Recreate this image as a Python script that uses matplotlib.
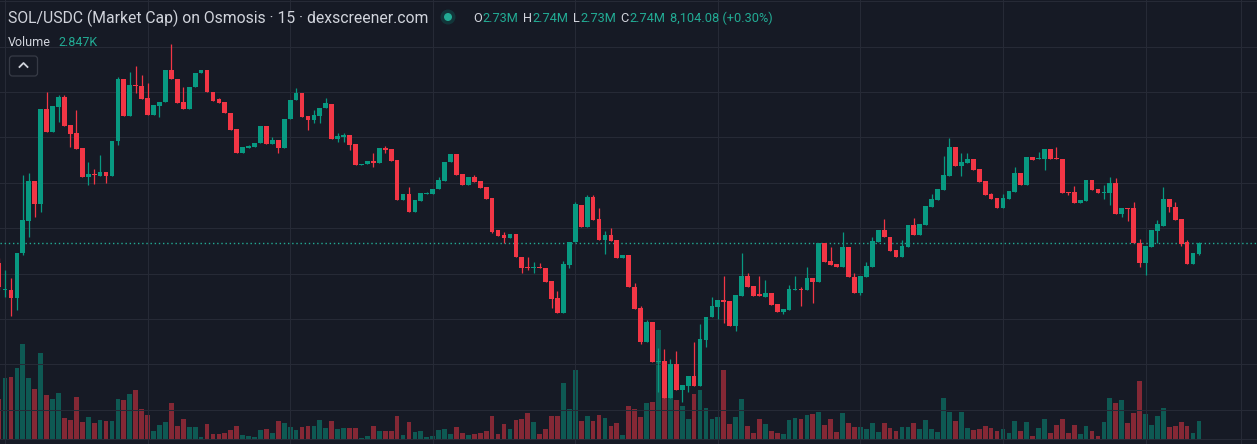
import numpy as np
import matplotlib.pyplot as plt
from matplotlib.patches import Circle, FancyBboxPatch
from matplotlib.lines import Line2D
from matplotlib.transforms import IdentityTransform

W, H = 1257, 444
BG = "#161a25"
UP = "#089981"
DOWN = "#f23645"
TEAL = "#22ab94"
GRID = "#262a36"
TEXT = "#d1d4dc"
FONT = ["Roboto", "DejaVu Sans"]

# SOL/USDC market cap, 15 min candles, values in $K
opens = [
    2720, 2693, 2693, 2685, 2730, 2762, 2802, 2779, 2874, 2851,
    2876, 2886, 2858, 2850, 2835, 2806, 2809, 2807, 2811, 2807,
    2842, 2904, 2867, 2898, 2897, 2885, 2868, 2877, 2881, 2913,
    2904, 2881, 2874, 2896, 2910, 2913, 2891, 2884, 2881, 2870,
    2854, 2830, 2835, 2836, 2840, 2857, 2839, 2843, 2835, 2864,
    2883, 2890, 2867, 2863, 2867, 2875, 2879, 2844, 2846, 2848,
    2839, 2818, 2819, 2822, 2820, 2835, 2834, 2823, 2783, 2789,
    2771, 2782, 2789, 2789, 2794, 2802, 2821, 2829, 2809, 2798,
    2806, 2802, 2796, 2785, 2753, 2748, 2745, 2749, 2726, 2716,
    2715, 2716, 2715, 2702, 2685, 2670, 2718, 2741, 2778, 2756,
    2786, 2764, 2743, 2748, 2743, 2725, 2728, 2696, 2675, 2641,
    2661, 2621, 2622, 2585, 2619, 2593, 2597, 2607, 2597, 2643,
    2666, 2676, 2683, 2682, 2657, 2687, 2707, 2697, 2689, 2686,
    2690, 2679, 2671, 2673, 2693, 2694, 2693, 2705, 2701, 2740,
    2722, 2719, 2716, 2736, 2706, 2690, 2706, 2716, 2741, 2753,
    2746, 2733, 2726, 2736, 2758, 2748, 2758, 2776, 2783, 2793,
    2807, 2836, 2817, 2820, 2824, 2814, 2802, 2789, 2785, 2775,
    2784, 2791, 2810, 2798, 2826, 2824, 2824, 2834, 2825, 2824,
    2791, 2791, 2780, 2782, 2803, 2794, 2790, 2790, 2800, 2769,
    2775, 2775, 2740, 2720, 2736, 2752, 2757, 2784, 2776, 2764,
    2741, 2719, 2729,
]
highs = [
    2725, 2713, 2705, 2730, 2808, 2810, 2802, 2874, 2891, 2877,
    2888, 2888, 2858, 2873, 2835, 2821, 2814, 2828, 2811, 2842,
    2906, 2904, 2911, 2917, 2908, 2900, 2878, 2881, 2913, 2939,
    2904, 2896, 2896, 2910, 2913, 2913, 2891, 2885, 2881, 2870,
    2854, 2836, 2838, 2840, 2857, 2857, 2846, 2843, 2864, 2883,
    2895, 2890, 2867, 2873, 2875, 2885, 2879, 2850, 2850, 2848,
    2839, 2819, 2822, 2830, 2835, 2837, 2834, 2823, 2789, 2796,
    2783, 2790, 2791, 2794, 2806, 2821, 2829, 2829, 2809, 2806,
    2808, 2802, 2796, 2785, 2753, 2751, 2749, 2749, 2726, 2726,
    2721, 2720, 2715, 2702, 2692, 2722, 2741, 2781, 2778, 2788,
    2788, 2775, 2752, 2755, 2743, 2728, 2728, 2700, 2677, 2663,
    2661, 2635, 2634, 2624, 2632, 2598, 2607, 2641, 2659, 2666,
    2686, 2683, 2707, 2682, 2688, 2730, 2710, 2697, 2707, 2703,
    2690, 2679, 2674, 2698, 2707, 2696, 2716, 2705, 2740, 2740,
    2736, 2719, 2751, 2736, 2710, 2707, 2721, 2746, 2753, 2764,
    2746, 2733, 2743, 2758, 2765, 2759, 2777, 2789, 2794, 2827,
    2845, 2836, 2830, 2830, 2824, 2814, 2802, 2790, 2785, 2789,
    2792, 2816, 2810, 2826, 2826, 2831, 2834, 2834, 2836, 2824,
    2791, 2797, 2783, 2803, 2803, 2794, 2798, 2806, 2805, 2775,
    2775, 2781, 2744, 2737, 2753, 2763, 2796, 2784, 2781, 2764,
    2743, 2730, 2741,
]
lows = [
    2693, 2686, 2667, 2673, 2728, 2746, 2766, 2771, 2851, 2851,
    2861, 2857, 2836, 2834, 2806, 2798, 2799, 2807, 2800, 2807,
    2838, 2867, 2867, 2890, 2884, 2868, 2868, 2866, 2881, 2904,
    2880, 2874, 2874, 2896, 2910, 2891, 2882, 2880, 2870, 2853,
    2830, 2830, 2835, 2836, 2840, 2839, 2839, 2830, 2835, 2864,
    2883, 2866, 2853, 2860, 2860, 2875, 2844, 2841, 2841, 2833,
    2818, 2818, 2819, 2816, 2820, 2830, 2822, 2783, 2783, 2771,
    2771, 2782, 2789, 2789, 2794, 2802, 2821, 2808, 2798, 2798,
    2801, 2795, 2784, 2750, 2747, 2740, 2745, 2726, 2710, 2713,
    2710, 2715, 2701, 2675, 2670, 2670, 2715, 2741, 2756, 2756,
    2763, 2743, 2729, 2742, 2725, 2725, 2696, 2674, 2639, 2641,
    2621, 2591, 2585, 2585, 2593, 2581, 2591, 2597, 2597, 2636,
    2666, 2664, 2660, 2657, 2652, 2687, 2696, 2687, 2687, 2686,
    2678, 2671, 2669, 2673, 2693, 2677, 2693, 2680, 2701, 2721,
    2718, 2716, 2716, 2706, 2690, 2688, 2706, 2716, 2741, 2746,
    2732, 2726, 2726, 2736, 2748, 2748, 2758, 2776, 2783, 2793,
    2807, 2817, 2807, 2820, 2813, 2801, 2788, 2784, 2775, 2775,
    2784, 2791, 2798, 2798, 2823, 2824, 2813, 2824, 2824, 2790,
    2788, 2780, 2780, 2782, 2793, 2790, 2784, 2778, 2769, 2766,
    2762, 2740, 2716, 2708, 2736, 2740, 2757, 2771, 2763, 2737,
    2719, 2719, 2728,
]
closes = [
    2696, 2694, 2685, 2730, 2763, 2802, 2779, 2874, 2851, 2877,
    2886, 2857, 2849, 2834, 2806, 2809, 2808, 2811, 2807, 2842,
    2904, 2867, 2898, 2897, 2884, 2868, 2878, 2881, 2913, 2904,
    2880, 2874, 2896, 2910, 2913, 2891, 2882, 2880, 2870, 2853,
    2830, 2836, 2837, 2840, 2857, 2839, 2843, 2835, 2864, 2883,
    2890, 2866, 2863, 2868, 2875, 2880, 2844, 2847, 2848, 2838,
    2818, 2819, 2822, 2820, 2835, 2833, 2822, 2783, 2789, 2771,
    2783, 2790, 2790, 2794, 2803, 2821, 2829, 2808, 2798, 2806,
    2801, 2795, 2784, 2751, 2747, 2745, 2749, 2726, 2715, 2715,
    2716, 2715, 2701, 2684, 2670, 2719, 2741, 2779, 2756, 2786,
    2763, 2743, 2748, 2742, 2725, 2728, 2696, 2674, 2641, 2661,
    2621, 2622, 2585, 2619, 2593, 2598, 2607, 2597, 2644, 2666,
    2677, 2683, 2681, 2657, 2688, 2707, 2696, 2687, 2687, 2690,
    2678, 2671, 2674, 2694, 2694, 2693, 2705, 2701, 2740, 2721,
    2718, 2716, 2736, 2706, 2690, 2707, 2717, 2742, 2753, 2746,
    2732, 2726, 2737, 2758, 2748, 2759, 2777, 2784, 2794, 2808,
    2836, 2817, 2821, 2824, 2813, 2801, 2788, 2784, 2775, 2785,
    2792, 2810, 2798, 2826, 2823, 2825, 2834, 2824, 2824, 2790,
    2790, 2780, 2783, 2803, 2793, 2790, 2791, 2800, 2769, 2775,
    2774, 2740, 2720, 2737, 2753, 2759, 2784, 2776, 2763, 2739,
    2719, 2730, 2740,
]
# volume per candle, $K
volume = [
    6.3, 9.6, 9.8, 11.2, 15.0, 9.6, 7.9, 13.6, 7.0, 6.3,
    7.3, 3.3, 3.0, 6.6, 2.7, 3.5, 2.5, 3.0, 2.8, 2.8,
    6.3, 6.2, 7.1, 7.7, 4.7, 3.8, 1.3, 2.2, 2.7, 5.7,
    2.1, 3.2, 1.9, 1.9, 0.3, 2.4, 0.8, 0.8, 0.9, 1.4,
    2.1, 0.6, 0.5, 0.3, 1.4, 1.6, 0.9, 2.8, 2.5, 1.9,
    1.4, 1.9, 2.1, 2.1, 3.0, 1.7, 2.8, 1.6, 1.7, 1.7,
    1.7, 0.2, 0.5, 2.1, 1.3, 1.3, 1.3, 3.6, 0.6, 2.7,
    1.1, 1.3, 0.3, 0.5, 1.4, 1.6, 0.8, 1.9, 0.9, 0.6,
    0.8, 0.9, 1.3, 3.6, 0.8, 2.4, 1.6, 3.0, 3.2, 4.1,
    2.7, 0.8, 1.6, 3.6, 3.6, 8.8, 4.7, 10.9, 2.8, 3.6,
    2.8, 3.8, 3.3, 2.1, 2.5, 0.6, 5.2, 4.7, 3.5, 5.7,
    5.8, 17.2, 6.8, 7.4, 6.2, 5.2, 3.2, 7.1, 7.7, 4.9,
    3.2, 3.5, 10.9, 2.4, 3.5, 6.3, 2.1, 0.9, 3.2, 2.4,
    1.3, 0.9, 0.8, 3.0, 3.3, 3.2, 3.8, 4.0, 4.3, 2.2,
    3.2, 1.1, 4.1, 2.5, 1.9, 1.9, 1.6, 2.5, 1.1, 2.5,
    1.7, 1.3, 1.9, 1.9, 2.5, 1.6, 3.0, 1.6, 1.1, 6.5,
    4.3, 2.8, 4.3, 1.7, 1.4, 1.6, 2.1, 1.7, 1.3, 1.6,
    0.9, 2.8, 1.3, 2.7, 0.5, 1.7, 3.2, 0.9, 2.2, 3.2,
    0.9, 2.2, 0.8, 2.1, 1.3, 0.5, 2.7, 6.5, 5.7, 6.2,
    2.5, 4.1, 9.2, 4.0, 2.2, 3.6, 4.9, 1.9, 2.1, 2.7,
    2.1, 0.9, 2.847,
]

title = "SOL/USDC (Market Cap) on Osmosis · 15 · dexscreener.com"
ohlc_parts = [("O", "2.73M"), ("H", "2.74M"), ("L", "2.73M"), ("C", "2.74M")]
change_text = "8,104.08 (+0.30%)"
volume_text = "2.847K"

o = np.array(opens, dtype=float)
hi = np.array(highs, dtype=float)
lo = np.array(lows, dtype=float)
c = np.array(closes, dtype=float)
x = np.arange(len(c))
colors = np.where(c >= o, UP, DOWN)

XLIM = (0.15, 211.77)

fig = plt.figure(figsize=(W / 100, H / 100), dpi=100, facecolor=BG)

# volume pane (behind candles)
ax_v = fig.add_axes([0, 5 / H, 1, 439 / H])
ax_v.bar(x, volume, width=0.8, color=colors, alpha=0.5, linewidth=0)
ax_v.set_xlim(*XLIM)
ax_v.set_ylim(0, 69.4)
ax_v.axis("off")

# price pane
ax = fig.add_axes([0, 0, 1, 1])
ax.set_xlim(*XLIM)
ax.set_ylim(2539, 2983)
ax.axis("off")

for gy in 2573.2 + 45.4 * np.arange(10):
    ax.axhline(gy, color=GRID, lw=0.75, zorder=0)
ax.axhline(2544, color=GRID, lw=0.75, zorder=0)
for gx in list(np.arange(1, 200, 24)) + [209.1]:
    ax.axvline(gx, color=GRID, lw=0.75, zorder=0)

ax.vlines(x, lo, hi, colors=colors, lw=0.9, zorder=2)
ax.bar(x, np.maximum(np.abs(c - o), 0.9), bottom=np.minimum(o, c),
       width=0.8, color=colors, linewidth=0, zorder=3)
ax.axhline(c[-1], color=TEAL, lw=1.0, linestyle=(0, (1, 2)), zorder=1)

# header
renderer = fig.canvas.get_renderer()


def put_text(xp, y_base, s, color, size, weight="normal"):
    t = fig.text(xp / W, 1 - y_base / H, s, color=color, fontsize=size,
                 family=FONT, va="baseline", ha="left", weight=weight)
    return t.get_window_extent(renderer).x1


put_text(8, 23, title, TEXT, 11.3)

fig.add_artist(Circle((448, H - 17), 7.5, color=UP, alpha=0.22,
                      transform=IdentityTransform(), lw=0))
fig.add_artist(Circle((448, H - 17), 4, color=TEAL,
                      transform=IdentityTransform(), lw=0))

xp = 473
for letter, val in ohlc_parts:
    xp = put_text(xp, 22, letter, TEXT, 9.2)
    xp = put_text(xp + 1, 22, val, TEAL, 9.2) + 4
put_text(xp, 22, change_text, TEAL, 9.2)

xv = put_text(8, 46, "Volume", TEXT, 9)
put_text(xv + 7, 46, volume_text, TEAL, 9)

fig.add_artist(FancyBboxPatch((9.5, H - 76), 28, 20,
                              boxstyle="round,pad=0,rounding_size=3",
                              transform=IdentityTransform(),
                              facecolor=BG, edgecolor="#363a45", lw=0.9))
fig.add_artist(Line2D([19.5, 23.5, 27.5], [H - 67, H - 63, H - 67],
                      color=TEXT, lw=1.3, transform=IdentityTransform()))

fig.savefig("out.png", dpi=100, facecolor=BG)
